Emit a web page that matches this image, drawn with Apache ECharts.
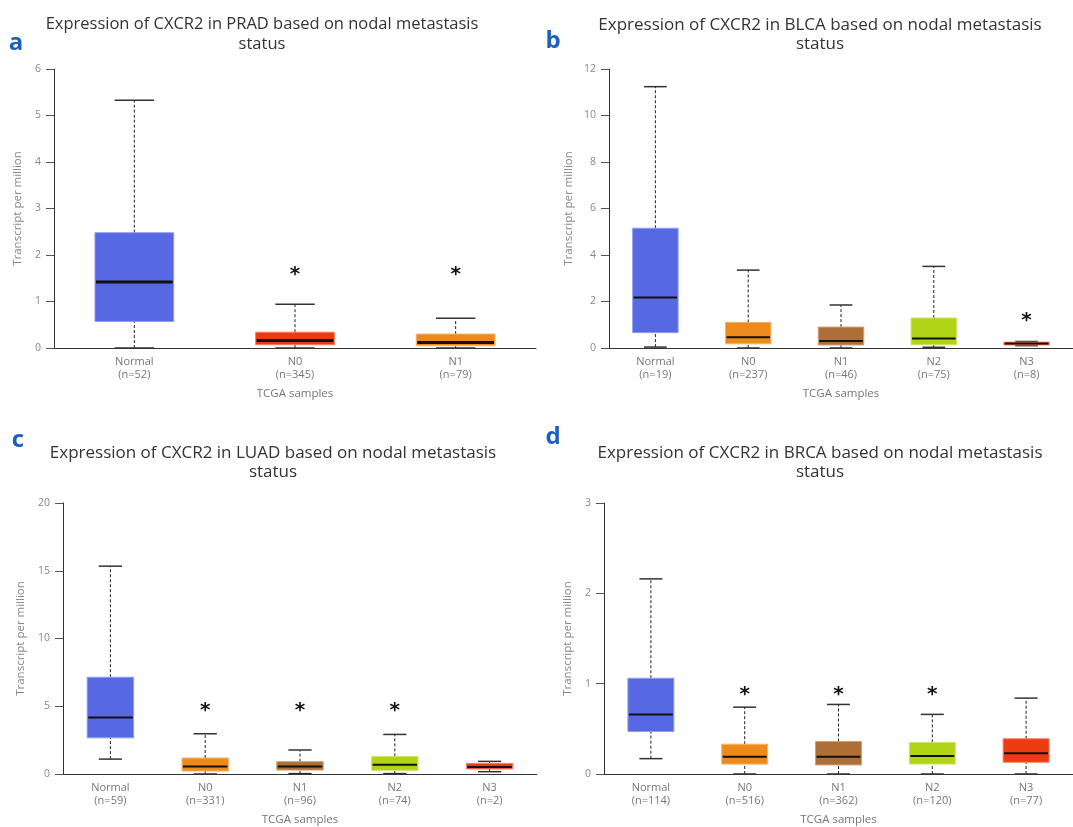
<!DOCTYPE html>
<html>
<head>
<meta charset="utf-8">
<title>Expression of CXCR2 by nodal metastasis status</title>
<script src="https://cdn.jsdelivr.net/npm/echarts@6.0.0/dist/echarts.min.js"></script>
<style>
  html, body { margin: 0; padding: 0; background: #fff; }
  #chart { width: 1073px; height: 827px; }
</style>
</head>
<body>
<div id="chart"></div>
<script>
// Box statistics per group: [min, Q1, median, Q3, max] in transcripts per million
const pradGroups = ['Normal', 'N0', 'N1'];
const pradCounts = [52, 345, 79];
const pradBoxes = [
  [0.00, 0.57, 1.42, 2.48, 5.33],
  [0.00, 0.07, 0.16, 0.34, 0.94],
  [0.00, 0.05, 0.12, 0.30, 0.64]
];
const pradStars = [null, 1.67, 1.67];

const blcaGroups = ['Normal', 'N0', 'N1', 'N2', 'N3'];
const blcaCounts = [19, 237, 46, 75, 8];
const blcaBoxes = [
  [0.04, 0.66, 2.17, 5.15, 11.24],
  [0.00, 0.18, 0.46, 1.10, 3.35],
  [0.00, 0.13, 0.30, 0.90, 1.85],
  [0.03, 0.14, 0.41, 1.29, 3.51],
  [0.10, 0.13, 0.19, 0.25, 0.28]
];
const blcaStars = [null, null, null, null, 1.33];

const luadGroups = ['Normal', 'N0', 'N1', 'N2', 'N3'];
const luadCounts = [59, 331, 96, 74, 2];
const luadBoxes = [
  [1.10, 2.67, 4.17, 7.14, 15.34],
  [0.00, 0.22, 0.56, 1.18, 2.97],
  [0.03, 0.29, 0.56, 0.91, 1.77],
  [0.03, 0.27, 0.69, 1.30, 2.92],
  [0.17, 0.37, 0.52, 0.78, 0.93]
];
const luadStars = [null, 4.93, 4.93, 4.93, null];

const brcaGroups = ['Normal', 'N0', 'N1', 'N2', 'N3'];
const brcaCounts = [114, 516, 362, 120, 77];
const brcaBoxes = [
  [0.17, 0.47, 0.66, 1.06, 2.16],
  [0.00, 0.11, 0.19, 0.33, 0.74],
  [0.00, 0.10, 0.19, 0.36, 0.77],
  [0.00, 0.11, 0.20, 0.35, 0.66],
  [0.00, 0.13, 0.23, 0.39, 0.84]
];
const brcaStars = [null, 0.92, 0.92, 0.92, null];

// y-axis tick settings
const pradTicks = { max: 6, interval: 1 };
const blcaTicks = { max: 12, interval: 2 };
const luadTicks = { max: 20, interval: 5 };
const brcaTicks = { max: 3, interval: 1 };

const BLUE = '#5668e2', RED = '#ee3a10', ORANGE = '#ee8a1c', BROWN = '#ae6f37', GREEN = '#b2d416';
const pradColors = [BLUE, RED, ORANGE];
const stageColors = [BLUE, ORANGE, BROWN, GREEN, RED];

function lighten(hex, t) {
  const n = parseInt(hex.slice(1), 16);
  const r = (n >> 16) & 255, g = (n >> 8) & 255, b = n & 255;
  const f = c => Math.round(c + (255 - c) * t);
  return 'rgb(' + f(r) + ',' + f(g) + ',' + f(b) + ')';
}

// Whisker box: dashed whiskers, short caps, filled IQR box and a black median bar
function boxRenderer(colors, medianWidth) {
  return function (params, api) {
    const i = api.value(0);
    const x = api.coord([i, 0])[0];
    const yMin = api.coord([i, api.value(1)])[1];
    const yQ1 = api.coord([i, api.value(2)])[1];
    const yMed = api.coord([i, api.value(3)])[1];
    const yQ3 = api.coord([i, api.value(4)])[1];
    const yMax = api.coord([i, api.value(5)])[1];
    const band = api.size([1, 0])[0];
    const w = band * 0.49;
    const cw = w / 2;
    const color = colors[i];
    const dash = { stroke: '#222', lineWidth: 1, lineDash: [3, 2] };
    const cap = { stroke: '#333', lineWidth: 1.5 };
    return {
      type: 'group',
      children: [
        { type: 'line', shape: { x1: x, y1: yQ3, x2: x, y2: yMax }, style: dash },
        { type: 'line', shape: { x1: x, y1: yMin, x2: x, y2: yQ1 }, style: dash },
        { type: 'line', shape: { x1: x - cw / 2, y1: yMax, x2: x + cw / 2, y2: yMax }, style: cap },
        { type: 'line', shape: { x1: x - cw / 2, y1: yMin, x2: x + cw / 2, y2: yMin }, style: cap },
        { type: 'rect', shape: { x: x - w / 2, y: yQ3, width: w, height: Math.max(yQ1 - yQ3, 1) },
          style: { fill: color, stroke: lighten(color, 0.35), lineWidth: 1 } },
        { type: 'line', shape: { x1: x - w / 2 + 1, y1: yMed, x2: x + w / 2 - 1, y2: yMed },
          style: { stroke: '#111', lineWidth: medianWidth } }
      ]
    };
  };
}

function starRenderer(params, api) {
  const p = api.coord([api.value(0), api.value(1)]);
  return {
    type: 'text',
    x: p[0], y: p[1] + 4,
    style: { text: '*', fill: '#111', font: 'bold 20px "DejaVu Sans"', align: 'center', verticalAlign: 'middle' }
  };
}

const panels = [
  { tumor: 'PRAD', groups: pradGroups, counts: pradCounts, boxes: pradBoxes, stars: pradStars, ticks: pradTicks, colors: pradColors, median: 3,
    grid: { left: 54, top: 69, width: 482, height: 279 }, nameGap: 30, titleX: 257, titleTop: 10, titleSize: 16.5, letter: 'a', letterX: 16, letterY: 43 },
  { tumor: 'BLCA', groups: blcaGroups, counts: blcaCounts, boxes: blcaBoxes, stars: blcaStars, ticks: blcaTicks, colors: stageColors, median: 2,
    grid: { left: 609, top: 69, width: 475, height: 279 }, nameGap: 34, titleX: 815, titleTop: 10, titleSize: 17, letter: 'b', letterX: 553, letterY: 41 },
  { tumor: 'LUAD', groups: luadGroups, counts: luadCounts, boxes: luadBoxes, stars: luadStars, ticks: luadTicks, colors: stageColors, median: 2,
    grid: { left: 63, top: 503, width: 474, height: 271 }, nameGap: 36, titleX: 268, titleTop: 438, titleSize: 17, letter: 'c', letterX: 18, letterY: 440 },
  { tumor: 'BRCA', groups: brcaGroups, counts: brcaCounts, boxes: brcaBoxes, stars: brcaStars, ticks: brcaTicks, colors: stageColors, median: 2,
    grid: { left: 604, top: 503, width: 488, height: 271 }, nameGap: 30, titleX: 815, titleTop: 438, titleSize: 17, letter: 'd', letterX: 553, letterY: 437 }
];

const FONT = '"Open Sans", "Noto Sans", sans-serif';
const option = {
  backgroundColor: '#ffffff',
  animation: false,
  title: [], grid: [], xAxis: [], yAxis: [], series: [], graphic: []
};

panels.forEach((p, k) => {
  option.title.push({
    text: 'Expression of CXCR2 in ' + p.tumor + ' based on nodal metastasis\nstatus',
    left: p.titleX, top: p.titleTop, textAlign: 'center',
    textStyle: { fontFamily: FONT, fontSize: p.titleSize, fontWeight: 'normal', color: '#333', lineHeight: 19.5 }
  });
  option.graphic.push({
    type: 'text', x: p.letterX, y: p.letterY,
    style: { text: p.letter, fill: '#1c5fc0', font: 'bold 24px ' + FONT, align: 'center', verticalAlign: 'middle' }
  });
  option.grid.push(p.grid);
  option.xAxis.push({
    type: 'category', gridIndex: k,
    data: p.groups.map((g, j) => g + '\n(n=' + p.counts[j] + ')'),
    axisLine: { lineStyle: { color: '#333', width: 1 } },
    axisTick: { alignWithLabel: true, length: 3, lineStyle: { color: '#333' } },
    axisLabel: { color: '#777', fontFamily: FONT, fontSize: 11, lineHeight: 13, margin: 7 },
    name: 'TCGA samples', nameLocation: 'middle', nameGap: 40,
    nameTextStyle: { color: '#777', fontFamily: FONT, fontSize: 11.5 }
  });
  option.yAxis.push({
    type: 'value', gridIndex: k, min: 0, max: p.ticks.max, interval: p.ticks.interval,
    axisLine: { show: true, lineStyle: { color: '#333', width: 1 } },
    axisTick: { show: true, length: 8, lineStyle: { color: '#555' } },
    axisLabel: { color: '#888', fontFamily: FONT, fontSize: 10.5, margin: 13 },
    splitLine: { show: false },
    name: 'Transcript per million', nameLocation: 'middle', nameGap: p.nameGap,
    nameTextStyle: { color: '#888', fontFamily: FONT, fontSize: 11.5 }
  });
  option.series.push({
    type: 'custom', xAxisIndex: k, yAxisIndex: k,
    renderItem: boxRenderer(p.colors, p.median),
    encode: { x: 0, y: [1, 2, 3, 4, 5] },
    data: p.boxes.map((b, j) => [j].concat(b))
  });
  option.series.push({
    type: 'custom', xAxisIndex: k, yAxisIndex: k,
    renderItem: starRenderer,
    encode: { x: 0, y: 1 },
    data: p.stars.map((s, j) => [j, s]).filter(d => d[1] !== null)
  });
});

const chart = echarts.init(document.getElementById('chart'), null, { renderer: 'canvas' });
chart.setOption(option);
</script>
</body>
</html>
